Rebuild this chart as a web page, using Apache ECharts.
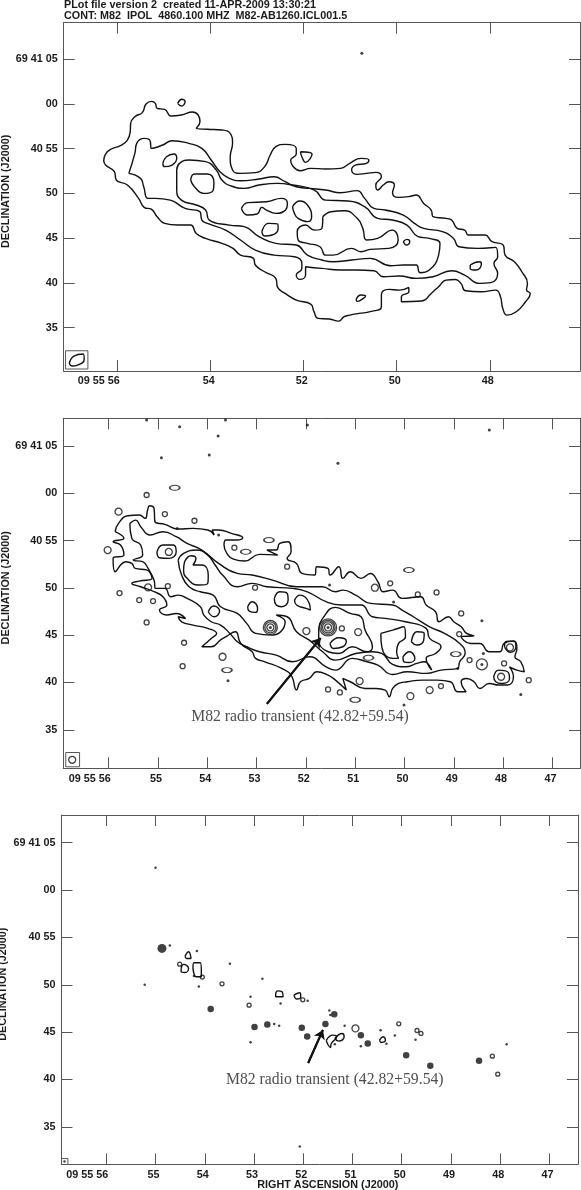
<!DOCTYPE html>
<html>
<head>
<meta charset="UTF-8">
<title>M82 radio transient</title>
<script src="https://cdn.jsdelivr.net/npm/echarts@6/dist/echarts.min.js"></script>
<style>
  html, body { margin: 0; padding: 0; background: #fff; }
  #main { width: 581px; height: 1190px; }
</style>
</head>
<body>
<div id="main"></div>
<script>
// all contours are [RA seconds after 09 55, Dec arcsec after 69 40]
var raTicksTop = [56, 54, 52, 50, 48];
var raLabelsTop = ['09 55 56', '54', '52', '50', '48'];
var raTicks = [56, 55, 54, 53, 52, 51, 50, 49, 48, 47];
var raLabels = ['09 55 56', '55', '54', '53', '52', '51', '50', '49', '48', '47'];
var decTicks = [65, 60, 55, 50, 45, 40, 35];
var decLabels = ['69 41 05', '00', '40 55', '50', '45', '40', '35'];

// top panel
var topOuter = [[56.30,53.65],[56.26,54.39],[56.14,54.95],[55.94,55.32],[55.79,55.95],[55.73,56.89],[55.72,57.82],[55.63,58.56],[55.47,59.01],[55.39,59.97],[55.27,60.27],[55.19,60.05],[55.15,59.49],[54.99,59.38],[54.85,58.63],[54.63,58.75],[54.39,59.08],[54.27,58.75],[54.23,58.00],[54.31,57.26],[54.07,57.15],[53.76,57.07],[53.58,56.70],[53.53,55.58],[53.58,54.09],[53.53,52.61],[53.36,52.23],[53.04,52.31],[52.84,52.98],[52.72,54.28],[52.60,55.21],[52.40,55.47],[52.16,55.02],[52.16,54.39],[52.28,53.72],[52.24,53.09],[52.08,52.53],[51.85,52.79],[51.53,52.72],[51.21,52.79],[51.01,53.35],[50.77,53.91],[50.60,53.72],[50.65,53.35],[50.89,53.16],[50.97,52.61],[50.85,52.12],[50.65,52.23],[50.45,52.34],[50.33,51.86],[50.45,50.93],[50.41,50.37],[50.29,50.93],[50.17,51.30],[50.05,50.93],[50.09,50.07],[49.97,49.55],[49.74,49.63],[49.58,49.81],[49.42,48.88],[49.26,48.14],[49.22,47.39],[48.94,47.21],[48.82,47.02],[48.70,46.09],[48.54,45.90],[48.46,45.35],[48.26,45.35],[48.10,45.35],[47.95,44.60],[47.71,44.23],[47.67,43.11],[47.47,42.37],[47.31,41.25],[47.19,39.95],[47.21,39.20],[47.13,38.83],[47.23,37.90],[47.43,36.79],[47.63,36.41],[47.72,37.16],[47.77,38.46],[47.87,39.20],[48.18,39.02],[48.52,39.13],[48.62,39.95],[48.74,40.39],[48.94,40.32],[49.10,39.58],[49.26,38.83],[49.46,37.98],[49.90,37.90],[49.90,38.46],[49.74,39.02],[49.74,39.50],[49.94,39.20],[50.17,39.28],[50.33,38.65],[50.33,37.34],[50.57,36.79],[50.81,36.60],[51.01,36.41],[51.13,36.23],[51.25,35.74],[51.45,35.97],[51.69,36.04],[51.78,36.79],[51.85,37.64],[52.16,38.09],[52.40,38.83],[52.56,39.50],[52.60,40.51],[52.84,41.25],[53.04,42.00],[53.08,42.74],[53.36,43.11],[53.52,43.86],[53.76,44.42],[54.11,44.97],[54.31,45.53],[54.43,46.46],[54.71,46.46],[54.99,46.65],[55.15,47.39],[55.27,48.21],[55.43,48.44],[55.55,49.44],[55.79,50.93],[56.03,51.49],[56.07,52.42],[56.26,53.16]];
var topMiddle = [[55.76,52.23],[55.63,54.47],[55.59,55.58],[55.43,56.14],[55.31,55.95],[55.27,55.02],[55.03,55.40],[54.83,55.88],[54.47,55.58],[54.19,55.02],[53.99,53.72],[53.80,52.42],[53.60,51.67],[53.36,51.41],[52.96,51.60],[52.64,51.86],[52.40,51.30],[52.16,50.74],[51.88,50.56],[51.53,50.37],[51.21,50.07],[50.85,50.30],[50.69,49.44],[50.49,48.32],[50.25,48.14],[49.86,47.58],[49.62,46.65],[49.42,46.09],[49.02,45.72],[48.78,44.97],[48.66,44.04],[48.26,43.86],[47.87,43.97],[47.83,42.93],[47.91,42.18],[47.83,41.07],[47.98,40.03],[48.22,39.95],[48.54,40.88],[48.82,41.36],[49.22,40.69],[49.58,40.51],[49.94,40.77],[50.29,40.69],[50.49,41.36],[50.89,41.44],[51.21,41.44],[51.61,41.62],[51.96,41.81],[51.96,40.88],[52.08,40.40],[52.16,40.88],[52.04,41.62],[52.04,42.18],[52.20,42.93],[52.64,43.11],[53.04,43.67],[53.36,44.79],[53.68,45.90],[54.07,46.65],[54.19,47.02],[54.23,47.95],[54.55,48.32],[54.87,49.25],[55.19,49.44],[55.35,49.44],[55.44,50.74],[55.51,51.67]];
var topInner = [[54.73,52.61],[54.67,53.35],[54.47,53.72],[54.11,53.54],[53.88,52.61],[53.76,51.49],[53.56,50.82],[53.28,50.56],[52.96,50.93],[52.56,51.11],[52.24,50.93],[51.77,50.37],[51.53,49.25],[51.05,49.14],[50.69,48.51],[50.41,47.21],[50.09,47.02],[49.78,46.46],[49.54,45.16],[49.30,44.97],[49.07,44.42],[49.10,43.11],[49.30,41.44],[49.50,41.14],[49.58,42.00],[49.86,42.00],[50.13,41.92],[50.57,42.74],[50.97,42.56],[51.37,42.37],[51.61,42.56],[51.92,43.11],[52.16,44.23],[52.60,44.42],[52.96,45.16],[53.28,46.28],[53.60,46.46],[54.03,47.02],[54.11,48.14],[54.31,48.70],[54.63,49.25],[54.73,50.37],[54.73,51.86]];
var topIslands = [
  [[55.03,53.35],[54.95,54.09],[54.79,54.39],[54.73,53.91],[54.83,53.16],[54.99,52.98]],
  [[54.43,51.49],[54.35,52.16],[54.07,52.16],[53.93,51.12],[53.95,50.30],[54.15,50.00],[54.35,50.74]],
  [[53.34,48.32],[53.20,48.96],[52.80,49.07],[52.48,49.44],[52.35,48.88],[52.39,48.14],[52.60,47.77],[52.80,48.14],[52.90,48.44],[53.00,47.69],[53.20,47.58]],
  [[52.24,48.51],[52.08,49.14],[51.92,48.70],[51.83,47.39],[51.92,46.84],[52.12,47.21],[52.20,47.77]],
  [[51.59,47.39],[51.41,47.95],[51.13,48.06],[50.85,47.21],[50.73,46.09],[50.65,44.79],[50.41,44.97],[50.09,45.90],[50.00,45.53],[49.97,44.79],[50.17,43.86],[50.57,43.75],[50.77,43.49],[50.97,43.86],[51.37,43.11],[51.53,43.11],[51.65,44.04],[51.92,44.42],[52.12,44.79],[52.14,45.72],[51.96,46.46],[51.77,45.90],[51.61,46.09]],
  [[52.90,45.72],[52.76,46.65],[52.56,46.58],[52.55,46.09],[52.68,45.35],[52.84,45.24]],
  [[49.86,44.60],[49.78,44.86],[49.72,44.60],[49.79,44.23]],
  [[48.42,42.00],[48.22,42.37],[48.18,42.11],[48.30,41.44],[48.42,41.62]],
  [[50.87,38.20],[50.77,38.65],[50.67,38.54],[50.77,38.09],[50.85,37.94]],
  [[54.71,60.05],[54.62,60.50],[54.55,60.24],[54.63,59.75]],
  [[52.07,54.65],[51.82,54.39],[51.96,53.46],[52.04,54.09]],
  [[57.04,31.02],[56.94,31.84],[56.74,32.06],[56.72,31.46],[56.86,30.83],[56.98,30.72]]
];
var topDots = [[50.75,65.63]];
var topBeamBox = [[57.12,32.43],[56.64,32.43],[56.64,30.39],[57.12,30.39],[57.12,32.43]];

// middle panel
var midOuter = [[55.87,55.94],[55.80,56.82],[55.61,57.63],[55.38,57.70],[55.26,57.35],[55.21,58.23],[55.17,58.69],[55.08,58.41],[55.06,57.00],[54.86,56.72],[54.59,56.22],[54.29,56.29],[53.99,56.12],[53.86,55.59],[53.90,56.12],[53.77,56.12],[53.51,55.77],[53.28,55.31],[53.39,55.06],[53.62,55.06],[53.66,54.53],[53.58,53.47],[53.47,53.05],[53.24,52.84],[52.94,53.54],[52.57,53.47],[52.79,54.00],[52.60,54.00],[52.53,54.71],[52.36,54.88],[52.30,53.82],[52.38,53.12],[52.19,52.59],[52.08,51.53],[51.82,51.36],[51.78,52.24],[51.55,52.06],[51.51,51.36],[51.33,52.24],[51.25,51.01],[51.10,51.71],[50.88,51.01],[50.69,51.53],[50.54,50.65],[50.43,49.59],[50.24,49.77],[50.05,48.89],[49.67,49.07],[49.56,48.19],[49.37,47.48],[49.30,46.42],[49.11,46.95],[49.00,46.42],[48.85,45.89],[48.74,45.19],[48.59,44.94],[48.85,44.84],[48.66,44.13],[48.47,44.13],[48.28,43.25],[48.06,43.25],[47.98,44.13],[47.79,44.38],[47.72,43.60],[47.76,42.72],[47.64,42.19],[47.57,41.14],[47.72,41.31],[47.87,41.66],[47.79,40.61],[47.91,39.73],[48.09,39.73],[48.28,39.90],[48.47,39.37],[48.59,40.08],[48.74,40.43],[48.85,40.08],[48.75,39.02],[48.92,39.02],[49.07,40.08],[49.34,40.25],[49.64,40.25],[49.94,40.08],[50.12,39.90],[50.24,39.37],[50.31,38.49],[50.39,39.20],[50.58,39.37],[50.80,39.37],[51.10,40.08],[51.25,40.43],[51.18,39.20],[51.40,40.25],[51.55,40.78],[51.78,41.14],[51.93,40.43],[52.11,40.08],[52.19,39.20],[52.30,40.78],[52.49,41.49],[52.83,42.19],[53.02,42.55],[53.09,43.25],[53.32,44.13],[53.43,45.37],[53.62,44.84],[53.73,44.50],[53.92,43.78],[54.11,43.78],[53.92,44.66],[53.81,45.19],[53.99,45.72],[54.29,46.07],[54.52,46.42],[54.59,46.95],[54.44,46.77],[54.63,47.30],[54.82,47.13],[54.97,47.66],[54.82,48.19],[54.90,49.07],[55.08,49.60],[55.35,50.12],[55.53,50.47],[55.38,50.72],[55.12,51.01],[55.23,51.90],[55.46,52.06],[55.53,52.59],[55.65,52.77],[55.87,51.71],[55.91,53.12],[55.69,53.47],[55.76,54.53],[55.91,54.88],[55.69,55.24]];
var midMiddle = [[55.57,56.82],[55.45,57.17],[55.35,56.47],[55.16,55.59],[54.90,55.94],[54.63,55.41],[54.41,54.71],[54.11,54.00],[53.77,52.59],[53.39,51.53],[53.09,51.36],[52.68,50.83],[52.19,50.12],[51.67,50.12],[51.40,49.59],[51.25,49.77],[50.99,49.24],[50.69,48.36],[50.24,48.19],[50.05,47.66],[49.82,46.95],[49.49,45.89],[49.19,45.19],[48.88,44.13],[48.77,43.08],[48.88,42.19],[48.92,41.49],[49.26,41.31],[49.56,40.96],[49.94,41.14],[50.24,40.85],[50.54,41.84],[50.76,42.19],[51.06,42.55],[51.40,41.31],[51.59,41.66],[51.93,42.72],[52.27,42.19],[52.60,42.90],[52.94,43.25],[53.20,43.78],[53.39,44.31],[53.54,45.19],[53.73,46.07],[53.92,46.42],[54.07,47.13],[54.14,48.01],[54.41,48.89],[54.59,49.24],[54.74,49.07],[54.86,49.95],[55.05,49.95],[55.08,50.83],[55.20,52.06],[55.31,52.77],[55.50,52.94],[55.31,53.47],[55.35,54.53],[55.53,55.24]];
var midInner = [[54.59,52.94],[54.48,53.65],[54.22,54.00],[53.99,53.47],[53.84,52.42],[53.69,51.36],[53.39,50.12],[53.09,50.48],[52.79,50.12],[52.27,49.95],[51.97,49.59],[51.59,48.54],[51.29,48.19],[50.88,48.19],[50.65,46.95],[50.39,46.78],[49.98,46.42],[49.56,45.72],[49.49,44.66],[49.26,43.78],[49.37,43.07],[49.56,42.55],[49.45,41.31],[49.60,42.19],[49.75,42.02],[49.98,41.66],[50.24,41.91],[50.46,43.07],[50.65,43.25],[50.99,43.07],[51.40,42.37],[51.66,43.25],[51.93,44.48],[52.19,45.37],[52.38,46.95],[52.60,47.13],[52.42,46.42],[52.68,45.01],[53.02,45.19],[53.20,46.25],[53.39,47.30],[53.73,48.01],[53.88,49.24],[54.14,49.59],[54.37,50.12],[54.52,51.36]];
var midIslands = [
  [[51.74,45.72],[51.66,46.78],[51.40,47.94],[51.10,47.30],[50.88,46.95],[50.80,45.54],[50.65,43.78],[50.76,43.25],[51.06,43.78],[51.33,43.07],[51.55,43.25],[51.74,44.48]],
  [[54.46,52.77],[54.33,53.40],[54.23,53.12],[54.29,52.42],[54.11,52.42],[53.98,51.36],[53.99,50.48],[54.18,50.30],[54.41,51.01],[54.48,51.90]],
  [[50.48,45.19],[50.24,45.54],[50.01,45.89],[49.98,44.84],[50.12,44.13],[50.16,43.25],[50.12,42.55],[50.24,42.55],[50.46,43.78]],
  [[52.23,48.71],[52.12,49.24],[51.93,48.36],[51.91,47.66],[52.00,47.84],[52.19,48.19]],
  [[52.64,48.89],[52.53,49.59],[52.38,49.42],[52.36,48.72],[52.49,48.01],[52.60,48.19]],
  [[53.18,48.01],[53.09,48.54],[52.98,47.83],[53.02,47.41],[53.15,47.55]],
  [[53.98,47.48],[53.87,48.08],[53.75,47.55],[53.86,46.95]],
  [[49.86,44.31],[49.75,45.37],[49.60,45.19],[49.61,44.48],[49.75,43.96]],
  [[50.03,42.72],[49.90,43.25],[49.79,42.55],[49.90,42.12],[50.01,42.19]],
  [[51.51,44.13],[51.33,44.73],[51.18,44.38],[51.25,43.78],[51.44,43.60]],
  [[55.02,53.82],[54.90,54.53],[54.69,54.53],[54.63,53.82],[54.78,53.12],[54.97,53.19]],
  [[48.19,40.60],[48.09,41.31],[47.91,41.14],[47.87,40.43],[48.02,39.90],[48.15,40.08]],
  [[47.97,43.75],[47.94,44.35],[47.77,44.35],[47.74,43.75],[47.85,43.20]]
];
var midBeamBox = [[56.87,32.60],[56.59,32.60],[56.59,31.09],[56.87,31.09],[56.87,32.60]];
var midSmall = [[55.23,59.82],[54.86,57.81],[53.45,54.25],[55.38,48.71],[55.10,48.61],[55.23,46.35],[54.47,44.20],[52.38,52.24],[53.03,50.02],[54.80,50.19],[50.29,50.48],[49.73,49.31],[49.35,49.52],[48.85,47.30],[48.89,45.12],[49.26,39.62],[51.55,39.27],[51.31,38.95],[47.98,42.02],[54.50,41.73],[47.48,40.25],[55.78,49.45],[54.26,57.10],[48.68,42.37],[51.27,45.72]];
var midWide = [[54.66,60.59],[53.22,53.82],[52.75,55.06],[49.91,51.89],[51.00,38.17],[53.60,41.31],[50.73,42.62],[48.96,43.00]];
var midMedium = [[56.02,54.00],[55.20,50.05],[51.99,45.44],[50.60,50.02],[53.69,42.72],[50.91,40.15],[49.49,39.20],[49.88,38.56],[47.86,43.71],[48.04,40.61],[55.80,58.06],[50.94,45.33],[54.78,53.80],[56.74,31.83]];
var midDots = [[53.77,55.59],[53.58,40.18],[50.22,48.50],[48.43,46.53],[50.01,37.61],[47.64,38.74],[48.28,66.69],[51.97,67.22],[51.35,63.17],[53.96,64.05],[53.78,66.06],[54.56,67.04],[55.23,67.75],[53.63,67.75],[54.93,63.77],[51.52,50.30],[48.43,41.91],[51.55,45.82],[52.72,45.82],[54.61,56.29],[48.40,43.07],[48.92,41.49]];
var midRingInner = [[51.55,45.82],[52.72,45.82]];
var midRingMiddle = [[51.55,45.82],[52.72,45.82],[48.43,41.91]];
var midRingOuter = [[51.55,45.82],[52.72,45.82]];
var midRingTransient = [[51.55,45.82]];
var midArrow = [[52.79,37.73],[51.70,44.70]];
var midNote = [[52.12,36.38]];

// bottom panel
var lowIslands = [
  [[54.24,51.73],[54.22,52.32],[54.09,52.32],[54.07,51.37],[54.07,50.85],[54.18,50.85],[54.22,51.20]],
  [[54.48,51.73],[54.43,52.15],[54.33,51.73],[54.40,51.30],[54.48,51.37]],
  [[54.40,53.03],[54.33,53.49],[54.28,52.78],[54.37,52.78]],
  [[52.56,49.08],[52.52,49.36],[52.43,49.26],[52.41,48.73],[52.56,48.73]],
  [[52.19,48.91],[52.07,49.15],[52.05,48.73],[52.13,48.49]],
  [[51.53,44.16],[51.40,44.68],[51.32,44.51],[51.43,43.80],[51.45,43.38],[51.51,43.80]],
  [[51.36,44.33],[51.21,44.86],[51.17,44.51],[51.28,44.05]],
  [[50.45,44.16],[50.38,44.51],[50.33,44.16],[50.42,43.91]]
];
var lowBigBlobs = [[54.87,53.84]];
var lowBlobs = [[53.88,47.43],[52.73,45.81],[52.03,45.46],[51.55,45.85],[51.92,44.54],[51.37,46.90],[50.69,43.80],[49.91,42.57],[49.42,41.44],[48.43,41.97],[50.83,44.68],[52.99,45.53]];
var lowRings = [[50.94,45.39]];
var lowSmall = [[53.10,47.85],[53.65,50.10],[50.06,45.88],[49.69,45.17],[49.61,44.86],[48.16,42.46],[48.05,40.56],[54.05,50.81],[54.51,52.18],[52.01,48.41]];
var lowDots = [[55.00,62.36],[54.71,54.15],[53.49,52.22],[55.22,50.00],[54.12,49.82],[53.07,48.73],[52.83,50.63],[54.16,53.56],[51.91,48.31],[52.46,48.03],[52.59,45.85],[52.49,45.67],[51.16,45.67],[51.47,47.29],[51.45,46.80],[50.43,45.21],[50.14,44.65],[49.72,44.19],[50.83,43.52],[50.31,43.77],[47.87,43.73],[53.07,43.94],[52.07,32.92],[51.36,43.73],[54.22,50.93],[56.85,31.34]];
var lowBeamBox = [[56.91,31.65],[56.78,31.65],[56.78,31.02],[56.91,31.02],[56.91,31.65]];
var lowArrow = [[51.90,41.74],[51.60,45.23]];
var lowNote = [[51.36,39.94]];

var noteText = 'M82 radio transient (42.82+59.54)';
var titleLines = 'PLot file version 2  created 11-APR-2009 13:30:21\nCONT: M82  IPOL  4860.100 MHZ  M82-AB1260.ICL001.5';
var INK = '#1a1a1a', FRAME = '#555';
var SANS = '"Liberation Sans", Arial, sans-serif';

var panels = [
  { left: 63.7, top: 22.7, width: 516.3, height: 348.3, ra: [46.06, 57.16], dec: [30.17, 69.05], ticks: raTicksTop, labels: raLabelsTop, decName: 6.3 },
  { left: 63.3, top: 418.3, width: 516.7, height: 350, ra: [46.44, 56.92], dec: [30.93, 67.93], ticks: raTicks, labels: raLabels, decName: 6.3 },
  { left: 61.5, top: 815, width: 516.5, height: 349.3, ra: [46.42, 56.91], dec: [31.04, 67.93], ticks: raTicks, labels: raLabels, decName: 3.5, raName: 'RIGHT ASCENSION (J2000)' }
];

var grid = [], xAxis = [], yAxis = [], series = [];

panels.forEach(function (p, i) {
  // ECharts 6 shrinks the grid to fit labels unless outerBoundsMode is off
  grid.push({ left: p.left, top: p.top, width: p.width, height: p.height, containLabel: false, outerBoundsMode: 'none' });
  var tickLine = { color: FRAME, width: 1 };
  var axisLine = { show: true, onZero: false, lineStyle: { color: FRAME, width: 1 } };
  var labelFont = { color: INK, fontFamily: SANS, fontSize: 10.8, fontWeight: 'bold' };
  xAxis.push({
    type: 'value', gridIndex: i, position: 'bottom', inverse: true, min: p.ra[0], max: p.ra[1], scale: true,
    splitLine: { show: false }, axisLine: axisLine,
    axisTick: { inside: true, length: 11, customValues: p.ticks, lineStyle: tickLine },
    axisLabel: Object.assign({
      customValues: p.ticks, margin: 5,
      formatter: function (v) {
        var s = p.labels[p.ticks.indexOf(v)];
        return (s.length > 2 ? '{first|' : '{sec|') + s + '}';
      },
      rich: {
        first: Object.assign({ padding: [0, 38, 0, 0] }, labelFont),
        sec: Object.assign({ padding: [0, 4, 0, 0] }, labelFont)
      }
    }, labelFont),
    name: p.raName || '', nameLocation: 'middle', nameGap: 15, nameMoveOverlap: false,
    nameTextStyle: Object.assign({ padding: [0, 0, 0, 16] }, labelFont)
  });
  xAxis.push({
    type: 'value', gridIndex: i, position: 'top', inverse: true, min: p.ra[0], max: p.ra[1], scale: true,
    splitLine: { show: false }, axisLine: axisLine, axisLabel: { show: false },
    axisTick: { inside: true, length: 11, customValues: p.ticks, lineStyle: tickLine }
  });
  yAxis.push({
    type: 'value', gridIndex: i, position: 'left', min: p.dec[0], max: p.dec[1], scale: true,
    splitLine: { show: false }, axisLine: axisLine,
    axisTick: { inside: true, length: 11, customValues: decTicks, lineStyle: tickLine },
    axisLabel: Object.assign({
      customValues: decTicks, margin: 6,
      formatter: function (v) { return decLabels[decTicks.indexOf(v)]; }
    }, labelFont),
    name: 'DECLINATION (J2000)', nameLocation: 'middle', nameRotate: 90, nameGap: p.left - p.decName - 5.5, nameMoveOverlap: false,
    nameTextStyle: Object.assign({ padding: [0, 0, 0, 11] }, labelFont)
  });
  yAxis.push({
    type: 'value', gridIndex: i, position: 'right', min: p.dec[0], max: p.dec[1], scale: true,
    splitLine: { show: false }, axisLine: axisLine, axisLabel: { show: false },
    axisTick: { inside: true, length: 11, customValues: decTicks, lineStyle: tickLine }
  });
});

function contour(panel, pts, isBox) {
  series.push({
    type: 'line', xAxisIndex: panel * 2, yAxisIndex: panel * 2, data: isBox ? pts : pts.concat([pts[0]]),
    smooth: isBox ? false : 0.5, showSymbol: false, silent: true, animation: false,
    lineStyle: { color: isBox ? FRAME : '#111', width: isBox ? 1 : 1.4 }
  });
}

function blobs(panel, pts, size, filled) {
  series.push({
    type: 'scatter', xAxisIndex: panel * 2, yAxisIndex: panel * 2, data: pts, symbol: 'circle', symbolSize: size,
    silent: true, animation: false,
    itemStyle: filled ? { color: '#111' } : { color: 'rgba(0,0,0,0)', borderColor: '#111', borderWidth: 1.3 }
  });
}

function transient(panel, arrow, note) {
  series.push({
    type: 'line', xAxisIndex: panel * 2, yAxisIndex: panel * 2, data: arrow, showSymbol: false, silent: true, animation: false,
    lineStyle: { color: '#111', width: 2 },
    markLine: {
      silent: true, animation: false, symbol: ['none', 'arrow'], symbolSize: 9, label: { show: false },
      lineStyle: { color: '#111', width: 2, type: 'solid' },
      data: [[{ coord: arrow[0] }, { coord: arrow[1] }]]
    }
  });
  series.push({
    type: 'scatter', xAxisIndex: panel * 2, yAxisIndex: panel * 2, data: note, symbolSize: 0, silent: true, animation: false,
    label: { show: true, position: 'inside', formatter: noteText, color: '#222', fontFamily: '"Liberation Serif", serif', fontSize: 15.7 }
  });
}

[topOuter, topMiddle, topInner].concat(topIslands).forEach(function (c) { contour(0, c); });
contour(0, topBeamBox, true);
blobs(0, topDots, 3, true);

[midOuter, midMiddle, midInner].concat(midIslands).forEach(function (c) { contour(1, c); });
contour(1, midBeamBox, true);
blobs(1, midSmall, 5);
blobs(1, midWide, [10, 5]);
blobs(1, midMedium, 7);
blobs(1, midDots, 3, true);
blobs(1, midRingInner, 7);
blobs(1, midRingMiddle, 11);
blobs(1, midRingOuter, 14);
blobs(1, midRingTransient, 17);
transient(1, midArrow, midNote);

lowIslands.forEach(function (c) { contour(2, c); });
contour(2, lowBeamBox, true);
blobs(2, lowBigBlobs, 9, true);
blobs(2, lowBlobs, 6.5, true);
blobs(2, lowRings, 7);
blobs(2, lowSmall, 4);
blobs(2, lowDots, 2.5, true);
transient(2, lowArrow, lowNote);

var chart = echarts.init(document.getElementById('main'), null, { renderer: 'canvas' });
chart.setOption({
  animation: false,
  backgroundColor: '#fff',
  title: { text: titleLines, left: 64, top: 0, padding: 0, textStyle: { color: INK, fontFamily: SANS, fontSize: 10.8, fontWeight: 'bold', lineHeight: 10.5 } },
  grid: grid, xAxis: xAxis, yAxis: yAxis, series: series
});
</script>
</body>
</html>
